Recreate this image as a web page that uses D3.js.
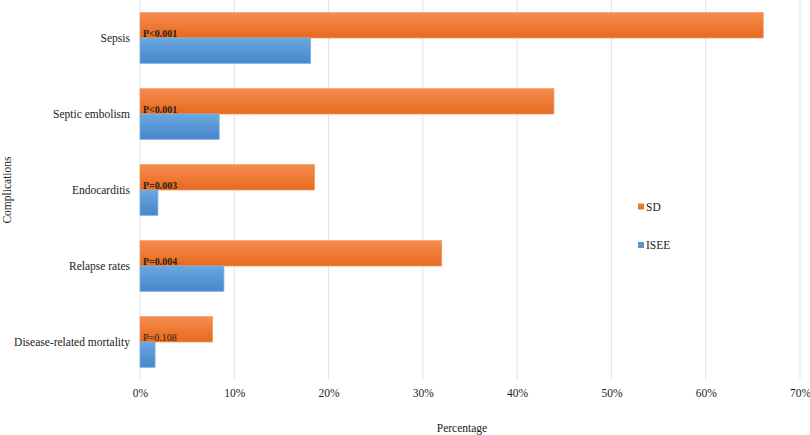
<!DOCTYPE html>
<html>
<head>
<meta charset="utf-8">
<script src="https://cdn.jsdelivr.net/npm/d3@7"></script>
<style>
  body { margin: 0; background: #fff; }
  svg text { font-family: 'Liberation Serif', 'Times New Roman', serif; }
</style>
</head>
<body>
<script>
// Data
let categories = ["Sepsis", "Septic embolism", "Endocarditis", "Relapse rates", "Disease-related mortality"];
let sdValues = [66.1, 43.9, 18.5, 32.0, 7.7];
let iseeValues = [18.1, 8.4, 1.9, 8.9, 1.6];
let pLabels = ["P<0.001", "P<0.001", "P=0.003", "P=0.004", "P=0.108"];
let pBold = [true, true, true, true, false];
let xTicks = [0, 10, 20, 30, 40, 50, 60, 70];
let seriesNames = ["SD", "ISEE"];

function drawChart() {
  let width = 810;
  let height = 435;
  let plotLeft = 140, plotRight = 800, plotTop = 0, plotBottom = 380;

  let svg = d3.select("body").append("svg")
    .attr("width", width)
    .attr("height", height);

  // gradients for the bars
  let defs = svg.append("defs");
  let grads = [
    {id: "gradSD", top: "#f48c4e", bottom: "#e7691f"},
    {id: "gradISEE", top: "#6aa8df", bottom: "#4686cb"}
  ];
  for (let g of grads) {
    let lg = defs.append("linearGradient")
      .attr("id", g.id)
      .attr("x1", 0).attr("y1", 0).attr("x2", 0).attr("y2", 1);
    lg.append("stop").attr("offset", "0%").attr("stop-color", g.top);
    lg.append("stop").attr("offset", "100%").attr("stop-color", g.bottom);
  }

  let x = d3.scaleLinear().domain([0, 70]).range([plotLeft, plotRight]);
  let y = d3.scaleBand().domain(categories).range([plotTop, plotBottom])
    .paddingInner(1 / 3).paddingOuter(1 / 6);
  let sub = d3.scaleBand().domain(seriesNames).range([0, y.bandwidth()]);

  // gridlines
  svg.append("g").selectAll("line")
    .data(xTicks)
    .enter()
    .append("line")
    .attr("x1", d => x(d)).attr("x2", d => x(d))
    .attr("y1", plotTop).attr("y2", plotBottom)
    .style("stroke", "#e3e3e3")
    .style("stroke-width", 1);

  // x axis labels (no axis line in the original)
  let xAxis = d3.axisBottom(x)
    .tickValues(xTicks)
    .tickFormat(d => d + "%")
    .tickSize(0)
    .tickPadding(0);
  let xg = svg.append("g")
    .attr("transform", `translate(0, 389)`)
    .call(xAxis)
    .attr("font-family", null);
  xg.select(".domain").remove();
  xg.selectAll("text")
    .style("font-size", "11.5px")
    .style("fill", "#222")
    .attr("dy", "0.71em");

  // y axis labels
  let yAxis = d3.axisLeft(y).tickSize(0).tickPadding(10);
  let yg = svg.append("g")
    .attr("transform", `translate(${plotLeft}, 0)`)
    .call(yAxis)
    .attr("font-family", null);
  yg.select(".domain").remove();
  yg.selectAll("text")
    .style("font-size", "11.5px")
    .style("fill", "#222")
    .attr("dy", "0.32em");
  // labels sit at the middle of each band
  yg.selectAll(".tick").attr("transform", d => `translate(0, ${y(d) + y.bandwidth() / 2})`);

  // bars
  let rows = categories.map((c, i) => ({cat: c, SD: sdValues[i], ISEE: iseeValues[i]}));
  let groups = svg.append("g").selectAll("g")
    .data(rows)
    .enter()
    .append("g")
    .attr("transform", d => `translate(0, ${y(d.cat)})`);

  groups.selectAll("rect")
    .data(d => seriesNames.map(s => ({series: s, value: d[s]})))
    .enter()
    .append("rect")
    .attr("x", x(0))
    .attr("y", d => sub(d.series))
    .attr("width", d => x(d.value) - x(0))
    .attr("height", sub.bandwidth())
    .style("fill", d => d.series == "SD" ? "url(#gradSD)" : "url(#gradISEE)")
    .style("stroke", d => d.series == "SD" ? "#f59a62" : "#7cb2e2")
    .style("stroke-width", 0.8);

  // p-value labels
  svg.append("g").selectAll("text")
    .data(categories)
    .enter()
    .append("text")
    .attr("x", x(0) + 3)
    .attr("y", (d, i) => y(d) + sub("ISEE") - 1)
    .style("font-size", "10px")
    .style("font-weight", (d, i) => pBold[i] ? "bold" : "normal")
    .style("fill", "#2e1f10")
    .text((d, i) => pLabels[i]);

  // axis titles
  svg.append("text")
    .attr("x", 462)
    .attr("y", 432)
    .attr("text-anchor", "middle")
    .style("font-size", "11.5px")
    .style("fill", "#222")
    .text("Percentage");

  svg.append("text")
    .attr("transform", `translate(11, ${(plotTop + plotBottom) / 2}) rotate(-90)`)
    .attr("text-anchor", "middle")
    .style("font-size", "11.5px")
    .style("fill", "#222")
    .text("Complications");

  // legend
  let legendColors = {SD: "#ec7630", ISEE: "#5597d5"};
  let legend = svg.append("g").selectAll("g")
    .data(seriesNames)
    .enter()
    .append("g")
    .attr("transform", (d, i) => `translate(638, ${206.5 + i * 38.5})`);
  legend.append("rect")
    .attr("x", 0).attr("y", -3)
    .attr("width", 6).attr("height", 6)
    .style("fill", d => legendColors[d]);
  legend.append("text")
    .attr("x", 8)
    .attr("dy", "0.35em")
    .style("font-size", "11.5px")
    .style("fill", "#222")
    .text(d => d);
}

drawChart();
</script>
</body>
</html>
